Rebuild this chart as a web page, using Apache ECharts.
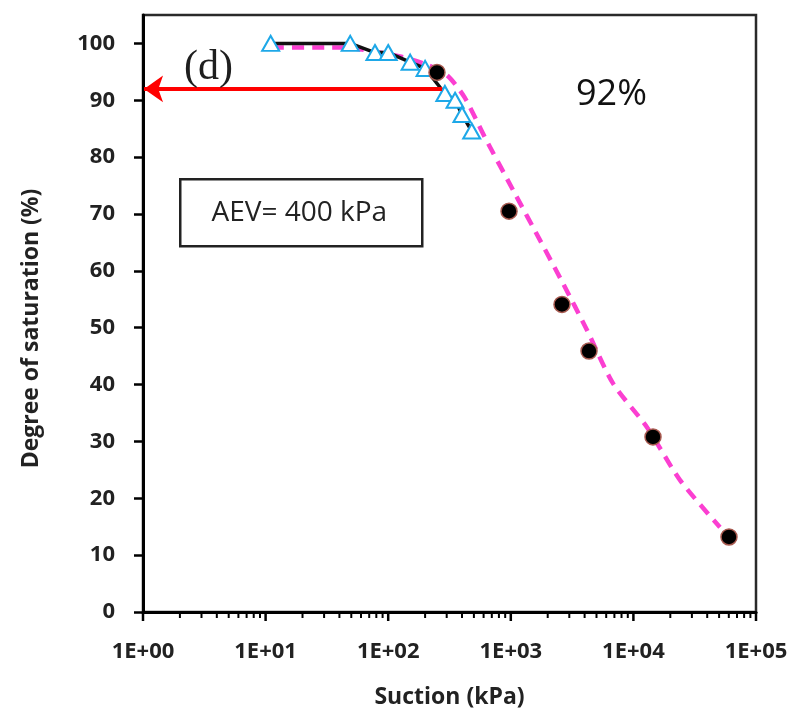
<!DOCTYPE html>
<html>
<head>
<meta charset="utf-8">
<script src="https://cdn.jsdelivr.net/npm/echarts@6/dist/echarts.min.js"></script>
<style>
  html, body { margin: 0; padding: 0; background: #fff; }
  #chart { width: 796px; height: 715px; }
</style>
</head>
<body>
<div id="chart"></div>
<script>
// Measured points: suction (kPa) vs. degree of saturation (%)
const triangleSuction = [11, 49, 78, 100, 151, 200, 290, 351, 400, 480];
const triangleSat     = [100, 100, 98.4, 98.4, 96.7, 95.6, 91.2, 90.0, 87.5, 84.6];

const circleSuction = [250, 967, 2615, 4345, 14450, 60200];
const circleSat     = [94.9, 70.5, 54.1, 45.9, 30.8, 13.2];

// Fitted SWCC curve
const fitSuction = [11.3, 40, 125, 210, 302, 420, 614, 1080, 1730, 2665, 4180, 6820, 12900, 24000, 50800];
const fitSat     = [99.3, 99.3, 97.7, 96.2, 94.4, 90.5, 83.5, 73.6, 65.4, 57.8, 49.6, 40.2, 32.5, 23.2, 14.9];

// Saturation read-off at the air-entry value
const arrowSuction = [275, 1.02];
const arrowSat = 92;

// Axis ticks
const yTicks = [0, 10, 20, 30, 40, 50, 60, 70, 80, 90, 100];
const xMajorTicks = [1, 10, 100, 1000, 10000, 100000];
const xMinorTicks = [];
for (let d = 1; d < 100000; d *= 10) {
  for (let m = 2; m <= 9; m++) xMinorTicks.push(m * d);
}

const zip = (xs, ys) => xs.map((x, i) => [x, ys[i]]);

const labelFont = { fontFamily: 'Open Sans', fontWeight: 'bold', color: '#222' };

const chart = echarts.init(document.getElementById('chart'));

// Decade and sub-decade tick marks under the log axis, placed through the axis scale
function renderLogTick(params, api) {
  const v = api.value(0);
  const p = api.coord([v, 0]);
  const exp = Math.log10(v);
  const isMajor = Math.abs(exp - Math.round(exp)) < 1e-9;
  const len = isMajor ? 9 : 6;
  return {
    type: 'line',
    shape: { x1: p[0], y1: p[1], x2: p[0], y2: p[1] + len },
    style: { stroke: '#000', lineWidth: isMajor ? 2.5 : 2 }
  };
}

chart.setOption({
  backgroundColor: '#fff',
  animation: false,
  grid: {
    left: 143, right: 40, top: 15, bottom: 103,
    show: true, borderColor: '#2a2a2a', borderWidth: 2.5
  },
  xAxis: {
    type: 'log', logBase: 10, min: 1, max: 100000,
    name: 'Suction (kPa)', nameLocation: 'middle', nameGap: 74,
    nameTextStyle: Object.assign({ fontSize: 23 }, labelFont),
    axisLine: { show: true, onZero: false, lineStyle: { color: '#000', width: 3 } },
    axisTick: { show: false },
    axisLabel: Object.assign({
      fontSize: 22, margin: 29,
      formatter: v => '1E+' + String(Math.round(Math.log10(v))).padStart(2, '0')
    }, labelFont),
    splitLine: { show: false },
    minorTick: { show: false }
  },
  yAxis: {
    type: 'value', min: 0, max: 105, interval: 10,
    name: 'Degree of saturation (%)', nameLocation: 'middle', nameGap: 100,
    nameTextStyle: Object.assign({ fontSize: 23, padding: [0, 30, 0, 0] }, labelFont),
    axisLine: { show: true, onZero: false, lineStyle: { color: '#000', width: 3 } },
    axisTick: { show: true, length: 9, customValues: yTicks, lineStyle: { color: '#000', width: 2.5 } },
    axisLabel: Object.assign({ fontSize: 22, margin: 28, customValues: yTicks }, labelFont),
    splitLine: { show: false }
  },
  series: [
    {
      name: 'x ticks',
      type: 'custom',
      clip: false,
      silent: true,
      renderItem: renderLogTick,
      data: xMajorTicks.concat(xMinorTicks).map(v => [v, 0])
    },
    {
      name: 'fit',
      type: 'line',
      data: zip(fitSuction, fitSat),
      smooth: 0.25,
      showSymbol: false,
      symbol: 'none',
      lineStyle: { color: '#fb3fd1', width: 4.5, type: [12, 8] },
      z: 2
    },
    {
      name: 'measured (triangles)',
      type: 'line',
      data: zip(triangleSuction, triangleSat),
      symbol: 'triangle',
      symbolSize: [17, 15],
      itemStyle: { color: '#fff', borderColor: '#1ea8e8', borderWidth: 2 },
      lineStyle: { color: '#111', width: 3.5 },
      z: 3
    },
    {
      name: 'measured (circles)',
      type: 'scatter',
      data: zip(circleSuction, circleSat),
      symbol: 'circle',
      symbolSize: 16,
      itemStyle: { color: '#000', borderColor: '#a85a50', borderWidth: 1.5, opacity: 1 },
      z: 4,
      markLine: {
        silent: true,
        symbol: ['none', 'arrow'],
        symbolSize: [20, 19],
        label: { show: false },
        lineStyle: { color: '#ff0000', width: 4, type: 'solid', opacity: 1 },
        data: [[
          { coord: [arrowSuction[0], arrowSat] },
          { coord: [arrowSuction[1], arrowSat] }
        ]]
      }
    }
  ],
  graphic: [
    {
      type: 'text', left: 184, top: 47, z: 10,
      style: { text: '(d)', font: '42px "Liberation Serif"', fill: '#1e1e1e' }
    },
    {
      type: 'text', left: 576, top: 77, z: 10,
      style: { text: '92%', font: '36px "Open Sans"', fill: '#111' }
    },
    {
      type: 'group', left: 179, top: 178, z: 10,
      children: [
        {
          type: 'rect',
          shape: { x: 0, y: 0, width: 242, height: 67 },
          style: { fill: '#fff', stroke: '#222', lineWidth: 2.5 }
        },
        {
          type: 'text', x: 119, y: 34,
          style: { text: 'AEV= 400 kPa', font: '28px "Open Sans"', fill: '#222', align: 'center', verticalAlign: 'middle' }
        }
      ]
    }
  ]
});
</script>
</body>
</html>
